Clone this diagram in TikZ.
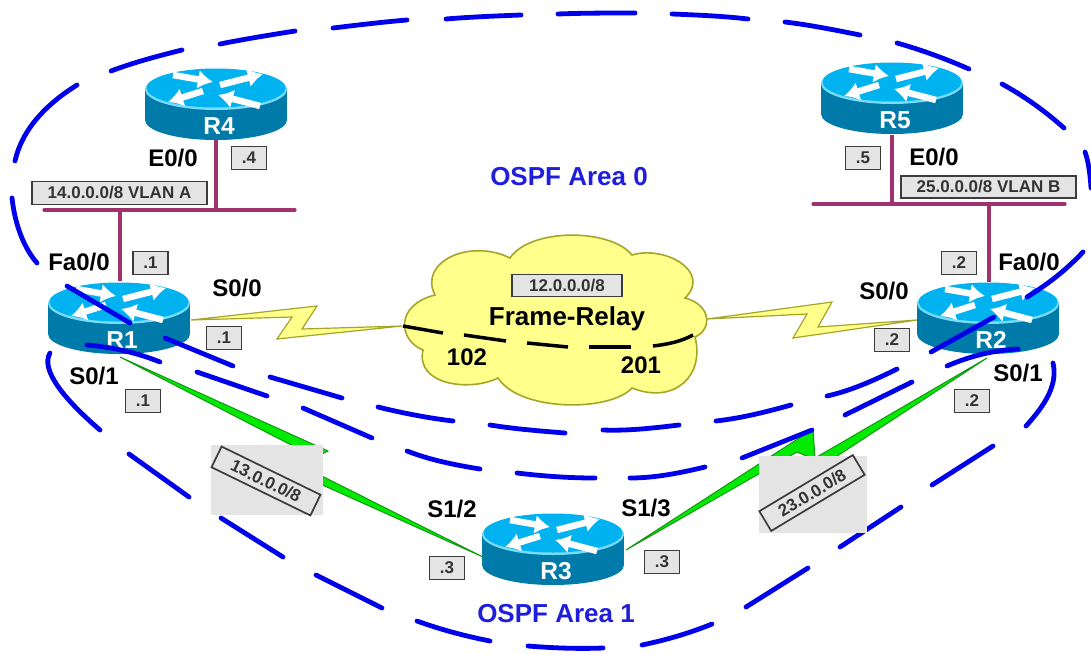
\documentclass[tikz,border=0pt]{standalone}
\usepackage{fontspec}
\setmainfont{Liberation Sans}
\usetikzlibrary{arrows.meta}
\definecolor{areablue}{RGB}{0,0,235}
\definecolor{areatext}{RGB}{30,30,220}
\definecolor{rtop}{RGB}{0,178,240}
\definecolor{rbody}{RGB}{0,122,168}
\definecolor{rrim}{RGB}{120,220,250}
\definecolor{busline}{RGB}{160,50,110}
\definecolor{tagfill}{RGB}{228,228,228}
\definecolor{tagline}{RGB}{60,60,60}
\definecolor{greenfill}{RGB}{0,235,0}
\definecolor{greenline}{RGB}{20,150,20}
\definecolor{boltfill}{RGB}{255,255,140}
\definecolor{boltline}{RGB}{165,165,40}
\tikzset{
  routerbox/.style={minimum width=142pt,minimum height=72pt,inner sep=0pt},
  rname/.style={text=white,font=\bfseries\fontsize{24.5}{24.5}\selectfont,inner sep=0pt},
  rarrow/.style={white,line width=6.5pt,-{Latex[length=15pt,width=19pt]}},
  tag/.style={draw=tagline,line width=1.7pt,fill=tagfill,text=black!80,inner sep=0pt,font=\bfseries\fontsize{17}{17}\selectfont},
  dot/.style={tag,minimum width=35pt,minimum height=23pt},
  port/.style={text=black,inner sep=0pt,font=\bfseries\fontsize{24}{24}\selectfont},
  area/.style={text=areatext,inner sep=0pt,font=\bfseries\fontsize{26}{26}\selectfont},
  dash0/.style={areablue,line width=4.8pt,line cap=round},
  fr/.style={black,line width=3.5pt},
  bus/.style={busline,line width=3.2pt},
  bolt/.style={fill=boltfill,draw=boltline,line width=1.2pt,line join=miter},
  fast/.style={fill=greenfill,draw=greenline,line width=1pt,line join=miter},
  greybox/.style={fill=tagfill,draw=none,inner sep=0pt}
}
\newcommand{\routerdraw}[3]{%
  \begin{scope}[shift={(#1,#2)}]
    \fill[rbody] (-71,0) rectangle (71,32);
    \fill[rbody] (0,32) ellipse [x radius=71,y radius=20];
    \fill[rrim] (0,1.5) ellipse [x radius=71,y radius=20.5];
    \fill[rtop] (0,0) ellipse [x radius=69.5,y radius=19.5];
    \draw[rarrow] (-43,-13) -- (-3,-6);
    \draw[rarrow] (4,-3) -- (47,-14);
    \draw[rarrow] (-13,3) -- (-48,14);
    \draw[rarrow] (44,18) -- (2,7);
    \node[rname] at (3,38) {#3};
  \end{scope}}
\begin{document}
\begin{tikzpicture}[x=1pt,y=-1pt]
\useasboundingbox (0,0) rectangle (1091,653);
\fill[white] (0,0) rectangle (1091,653);
% named router boxes
\node[routerbox] (R1) at (119,317) {};
\node[routerbox] (R2) at (988,318) {};
\node[routerbox] (R3) at (553,549) {};
\node[routerbox] (R4) at (216,104) {};
\node[routerbox] (R5) at (892,99) {};
% buses
\coordinate (busAl) at (44,210);
\coordinate (busAr) at (295,210);
\coordinate (busA4) at (216,210);
\coordinate (busA1) at (120,210);
\coordinate (busBl) at (813,204);
\coordinate (busBr) at (1065,204);
\coordinate (busB5) at (892,204);
\coordinate (busB2) at (989,204);
\draw[bus,line cap=round] (busAl) -- (busAr);
\draw[bus,line cap=round] (busBl) -- (busBr);
\draw[bus] (busA4) -- (R4.south);
\draw[bus] (busA1) -- (busA1 |- R1.north);
\draw[bus] (busB5) -- (R5.south);
\draw[bus] (busB2) -- (busB2 |- R2.north);
% serial bolts
\coordinate (cloudW) at (402,326);
\coordinate (cloudE) at (707,319);
\coordinate (R1s) at (191,320);
\coordinate (R2s) at (917,320);
\filldraw[bolt] (R1s) -- (317,306) -- (302,329) -- (cloudW) -- (277,339) -- (292,317) -- cycle;
\filldraw[bolt] (cloudE) -- (832,302) -- (818,327) -- (R2s) -- (793,338) -- (807,314) -- cycle;
% cloud
\filldraw[fill=boltfill,draw=boltline,line width=1.6pt]
  (510,258) .. controls (530,228) and (610,228) .. (632,255)
  .. controls (665,245) and (712,272) .. (685,298)
  .. controls (712,305) and (712,330) .. (695,337)
  .. controls (705,375) and (675,405) .. (632,388)
  .. controls (610,412) and (520,412) .. (498,378)
  .. controls (470,392) and (415,385) .. (423,350)
  .. controls (398,340) and (395,305) .. (435,295)
  .. controls (418,262) and (470,238) .. (510,258) -- cycle;
\draw[fr] (403,326) -- (443,333);
\draw[fr] (464,335) -- (506,341);
\draw[fr] (527,343) -- (568,347);
\draw[fr] (589,347) -- (631,347);
\draw[fr] (653,346) .. controls (670,344) and (682,341) .. (693,335);
% routers
\routerdraw{119}{302}{R1}
\routerdraw{988}{302}{R2}
\routerdraw{553}{533}{R3}
\routerdraw{216}{88}{R4}
\routerdraw{892}{82}{R5}
% green links
\coordinate (R1g) at (120,357);
\coordinate (R3gl) at (483,557);
\coordinate (R3gr) at (626,550);
\coordinate (R2g) at (987,358);
\filldraw[fast] (R1g) -- (328,451) -- (300,465) -- (R3gl) -- (280,466) -- (295,447) -- cycle;
\filldraw[fast] (R3gr) -- (813,429) -- (815,458) -- (R2g) -- (825,464) -- (797,452) -- cycle;
% Area dashes, upper ring
\draw[dash0] (15,161) .. controls (22,130) and (45,105) .. (77,85);
\draw[dash0] (111,71) .. controls (135,62) and (158,56) .. (182,50);
\draw[dash0] (220,44) .. controls (245,39) and (270,35) .. (295,31);
\draw[dash0] (333,28) .. controls (358,25) and (383,22) .. (407,20);
\draw[dash0] (446,19) .. controls (470,17) and (495,16) .. (521,15);
\draw[dash0] (558,14) .. controls (583,13) and (610,13) .. (635,13);
\draw[dash0] (672,14) .. controls (697,15) and (722,16) .. (748,19);
\draw[dash0] (785,22) .. controls (810,25) and (835,30) .. (860,35);
\draw[dash0] (897,43) .. controls (922,50) and (946,59) .. (969,69);
\draw[dash0] (1002,84) .. controls (1024,96) and (1045,111) .. (1064,128);
\draw[dash0] (1085,152) .. controls (1088,160) and (1090,172) .. (1091,188);
\draw[dash0] (12,198) .. controls (15,225) and (24,248) .. (37,263);
\draw[dash0] (67,286) -- (130,323);
\draw[dash0] (165,338) -- (233,366);
\draw[dash0] (270,377) -- (342,398);
\draw[dash0] (378,407) .. controls (402,413) and (428,418) .. (453,421);
\draw[dash0] (490,425) .. controls (515,429) and (540,431) .. (565,433);
\draw[dash0] (603,430) .. controls (628,431) and (654,428) .. (679,425);
\draw[dash0] (716,421) .. controls (742,418) and (766,412) .. (791,405);
\draw[dash0] (827,396) .. controls (850,391) and (875,380) .. (897,369);
\draw[dash0] (931,352) -- (994,317);
\draw[dash0] (1027,297) .. controls (1050,283) and (1068,268) .. (1083,252);
% Area dashes, lower ring
\draw[dash0] (87,345) .. controls (112,347) and (138,353) .. (160,362);
\draw[dash0] (197,372) -- (267,396);
\draw[dash0] (303,408) -- (372,438);
\draw[dash0] (407,451) .. controls (430,460) and (455,465) .. (480,469);
\draw[dash0] (517,473) .. controls (542,476) and (568,478) .. (595,478);
\draw[dash0] (630,478) .. controls (655,478) and (680,473) .. (705,467);
\draw[dash0] (742,458) -- (812,430);
\draw[dash0] (845,415) -- (912,382);
\draw[dash0] (947,366) .. controls (970,356) and (995,350) .. (1018,349);
\draw[dash0] (1053,363) .. controls (1058,385) and (1045,405) .. (1026,426);
\draw[dash0] (50,353) .. controls (40,370) and (65,400) .. (100,430);
\draw[dash0] (129,454) -- (189,497);
\draw[dash0] (221,518) -- (283,557);
\draw[dash0] (316,575) -- (382,608);
\draw[dash0] (417,621) .. controls (442,630) and (465,636) .. (490,641);
\draw[dash0] (528,646) .. controls (553,648) and (578,649) .. (603,648);
\draw[dash0] (642,645) .. controls (666,640) and (690,633) .. (712,624);
\draw[dash0] (746,607) -- (808,568);
\draw[dash0] (840,547) -- (901,507);
\draw[dash0] (932,485) -- (993,446);
% grey boxes and rotated tags
\node[greybox,minimum width=112pt,minimum height=70pt] (g13) at (267,480) {};
\node[greybox,minimum width=108pt,minimum height=77pt] (g23) at (813,494.5) {};
\node[tag,rotate=-26,minimum width=110pt,minimum height=23pt] (n13) at (266,481) {13.0.0.0/8};
\node[tag,rotate=31,minimum width=109pt,minimum height=23pt] (n23) at (812,493) {23.0.0.0/8};
% tags
\node[tag,minimum width=175pt,minimum height=23pt] (vA) at (119.5,193) {14.0.0.0/8 VLAN A};
\node[tag,minimum width=175pt,minimum height=22pt] (vB) at (988.5,187) {25.0.0.0/8 VLAN B};
\node[tag,minimum width=110pt,minimum height=22pt] (n12) at (567,285.5) {12.0.0.0/8};
\node[dot] (d4) at (249,158) {.4};
\node[dot] (d1a) at (150.5,263) {.1};
\node[dot] (d1b) at (224,338) {.1};
\node[dot] (d1c) at (143,401) {.1};
\node[dot] (d3a) at (447,568) {.3};
\node[dot] (d3b) at (662,562) {.3};
\node[dot] (d2a) at (959,263) {.2};
\node[dot] (d2b) at (892,340) {.2};
\node[dot] (d2c) at (972,401) {.2};
\node[dot] (d5) at (863,158) {.5};
% port labels
\node[port] (p1) at (173,158) {E0/0};
\node[port] (p2) at (79,262) {Fa0/0};
\node[port] (p3) at (237,288) {S0/0};
\node[port] (p4) at (94,376) {S0/1};
\node[port] (p5) at (452,509) {S1/2};
\node[port] (p6) at (646,508) {S1/3};
\node[port] (p7) at (1018,373) {S0/1};
\node[port] (p8) at (884,291) {S0/0};
\node[port] (p9) at (1029,262) {Fa0/0};
\node[port] (p10) at (934,157) {E0/0};
\node[port] (p11) at (467,357) {102};
\node[port] (p12) at (641,365) {201};
\node[port,font=\bfseries\fontsize{26}{26}\selectfont] (p13) at (567,319) {Frame-Relay};
\node[area] (a0) at (569,177) {OSPF Area 0};
\node[area] (a1) at (556,614) {OSPF Area 1};
\end{tikzpicture}
\end{document}
